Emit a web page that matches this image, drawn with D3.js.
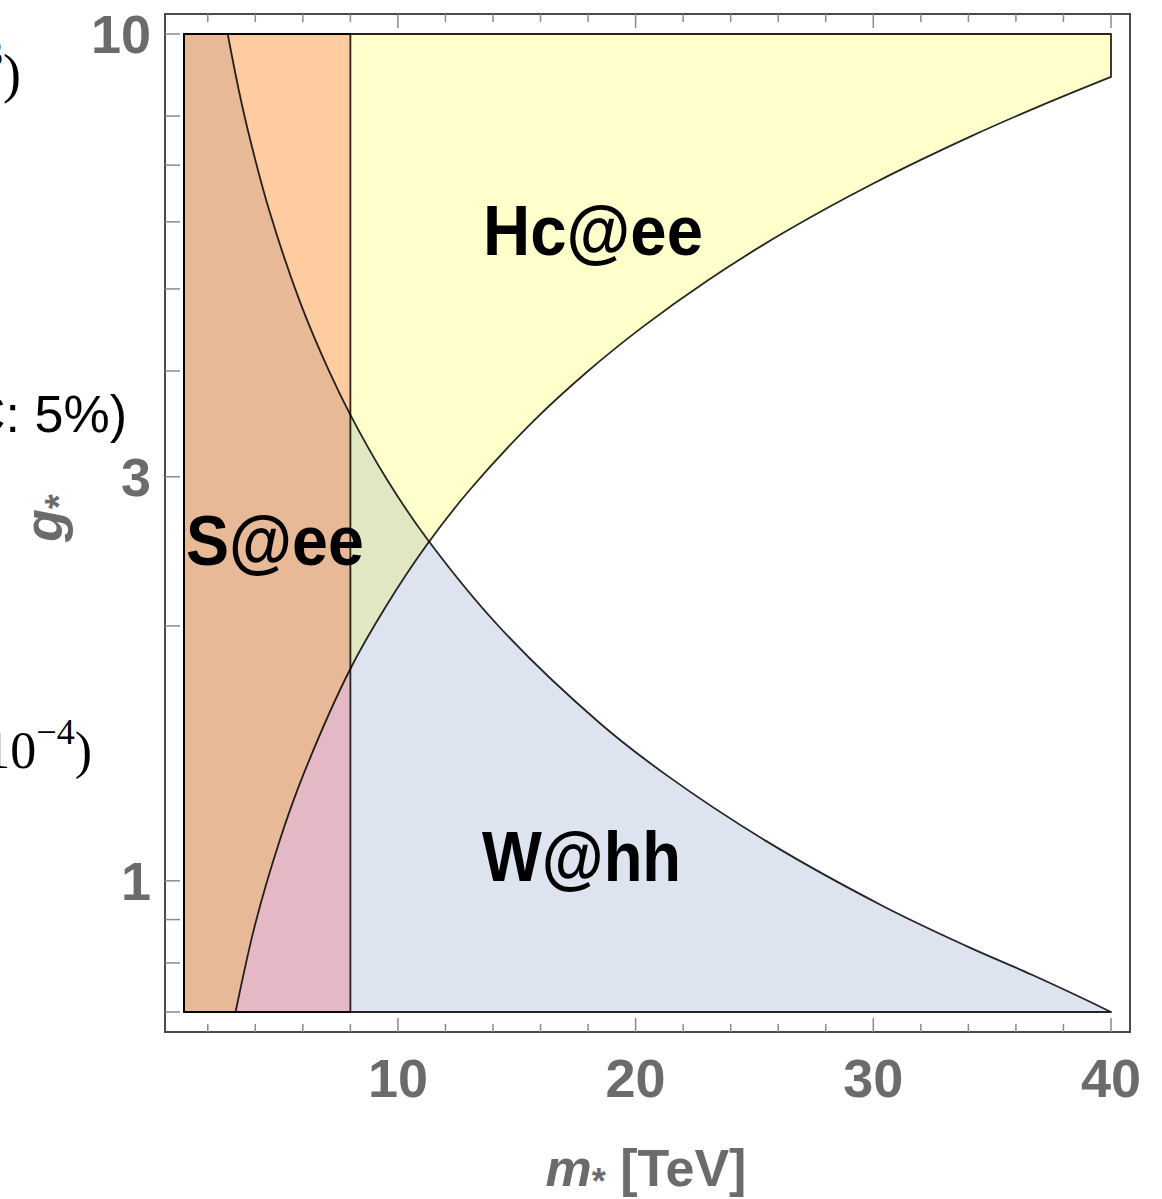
<!DOCTYPE html>
<html>
<head>
<meta charset="utf-8">
<script src="https://cdn.jsdelivr.net/npm/d3@7"></script>
<style>
  body { margin: 0; background: #fff; }
  svg { display: block; }
</style>
</head>
<body>
<svg id="chart" width="1162" height="1199"></svg>
<script>
// boundary of the W@hh region (region lies below), m* in TeV vs g*
var wCurve = [[2.84,10],[3.3,8.6],[3.77,7.53],[4.6,6.17],[5.9,4.81],[7.1,4.0],[8,3.55],[9.5,2.99],
  [11.2,2.54],[14.3,1.99],[18.5,1.535],[21.3,1.333],[25.5,1.114],[30.4,0.934],[33.9,0.838],[36.7,0.774],[40,0.70]];
// boundary of the Hc@ee region (region lies above)
var hcCurve = [[3.17,0.70],[4,0.89],[5,1.11],[6,1.33],[8,1.78],[9.5,2.11],[11.2,2.49],[13,2.89],
  [15.7,3.49],[18,4.0],[20.3,4.51],[23,5.11],[26.2,5.82],[30,6.66],[34.1,7.57],[37,8.22],[40,8.9]];
// S@ee excludes m* below this
var sLimit = 8;

var xDomain = [1, 40], yDomain = [0.7, 10];
var xMajor = [10, 20, 30, 40];
var xMinor = [2, 4, 6, 8, 12, 14, 16, 18, 22, 24, 26, 28, 32, 34, 36, 38];
var yMajor = [1, 3, 10];
var yMinor = [0.7, 0.8, 0.9, 2, 4, 5, 6, 7, 8];

var regionLabels = ["Hc@ee", "S@ee", "W@hh"];
var labelAt = [[13.58, 5.48], [1.08, 2.36], [13.54, 1.0]];

var svg = d3.select('#chart');
var x = d3.scaleLinear().domain(xDomain).range([184, 1111]);
var y = d3.scaleLog().domain(yDomain).range([1012, 34]);

function curveD(pts) {
  return d3.line().x(function(d){ return x(d[0]); }).y(function(d){ return y(d[1]); })
    .curve(d3.curveCatmullRom.alpha(0.5))(pts);
}
function poly(pts, extra) {
  var s = curveD(pts);
  extra.forEach(function(p){ s += "L" + x(p[0]) + "," + y(p[1]); });
  return s + "Z";
}
function rectD(x0, x1) {
  return "M" + x(x0) + "," + y(yDomain[0]) + "L" + x(x1) + "," + y(yDomain[0]) +
    "L" + x(x1) + "," + y(yDomain[1]) + "L" + x(x0) + "," + y(yDomain[1]) + "Z";
}

var shapes = {
  S1: rectD(xDomain[0], sLimit),
  S0: rectD(sLimit, xDomain[1]),
  H1: poly(hcCurve, [[40,10],[1,10],[1,0.7]]),
  H0: poly(hcCurve, [[40,0.7]]),
  W1: poly(wCurve, [[40,0.7],[1,0.7],[1,10]]),
  W0: poly(wCurve, [[40,10]])
};

var defs = svg.append('defs');
for (var k in shapes) {
  defs.append('clipPath').attr('id', 'c' + k).append('path').attr('d', shapes[k]);
}

// overlap colours
var zones = [
  ['1','1','1','#e8b996'], ['1','1','0','#ffcba1'], ['1','0','1','#e4b9c5'], ['1','0','0','#ffcbc8'],
  ['0','1','1','#e1e7c3'], ['0','1','0','#ffffcc'], ['0','0','1','#dee3f0']
];
zones.forEach(function(z){
  svg.append('g').attr('clip-path', 'url(#cS' + z[0] + ')')
    .append('g').attr('clip-path', 'url(#cH' + z[1] + ')')
    .append('g').attr('clip-path', 'url(#cW' + z[2] + ')')
    .append('path').attr('d', rectD(xDomain[0], xDomain[1])).attr('fill', z[3]);
});

// region outlines
[shapes.H1, shapes.W1, shapes.S1].forEach(function(d){
  svg.append('path').attr('d', d).attr('fill', 'none')
    .attr('stroke', '#000').attr('stroke-opacity', 0.85).attr('stroke-width', 1.8)
    .attr('stroke-linejoin', 'round');
});

// region labels
var labelW = [220, 178, 199];
regionLabels.forEach(function(t, i){
  svg.append('text').attr('x', x(labelAt[i][0])).attr('y', y(labelAt[i][1]))
    .attr('font-family', 'Liberation Sans, Arial, sans-serif').attr('font-weight', 'bold')
    .attr('font-size', 70).attr('textLength', labelW[i]).attr('lengthAdjust', 'spacingAndGlyphs')
    .text(t);
});

// frame
var fx0 = 165, fx1 = 1130, fy0 = 14, fy1 = 1032;
svg.append('rect').attr('x', fx0).attr('y', fy0).attr('width', fx1 - fx0).attr('height', fy1 - fy0)
  .attr('fill', 'none').attr('stroke', '#4a4a4a').attr('stroke-width', 2);

var tickCol = '#8a8a8a';
function xTicks(vals, len) {
  vals.forEach(function(v){
    svg.append('line').attr('x1', x(v)).attr('x2', x(v)).attr('y1', fy1).attr('y2', fy1 - len)
      .attr('stroke', tickCol).attr('stroke-width', 1.5);
    svg.append('line').attr('x1', x(v)).attr('x2', x(v)).attr('y1', fy0).attr('y2', fy0 + len)
      .attr('stroke', tickCol).attr('stroke-width', 1.5);
  });
}
xTicks(xMajor, 14);
xTicks(xMinor, 8);
yMajor.concat(yMinor).forEach(function(v){
  svg.append('line').attr('x1', fx0).attr('x2', fx0 + 15).attr('y1', y(v)).attr('y2', y(v))
    .attr('stroke', tickCol).attr('stroke-width', 1.5);
});

var labFont = 'Liberation Sans, Arial, sans-serif';
xMajor.forEach(function(v){
  svg.append('text').attr('x', x(v)).attr('y', 1097).attr('text-anchor', 'middle')
    .attr('font-family', labFont).attr('font-weight', 'bold').attr('font-size', 54)
    .attr('fill', '#6b6b6b').text(v);
});
yMajor.forEach(function(v){
  svg.append('text').attr('x', 151).attr('y', y(v) + 19).attr('text-anchor', 'end')
    .attr('font-family', labFont).attr('font-weight', 'bold').attr('font-size', 54)
    .attr('fill', '#6b6b6b').text(v);
});

// axis titles
var xt = svg.append('text').attr('x', 646).attr('y', 1186).attr('text-anchor', 'middle')
  .attr('font-family', labFont).attr('font-weight', 'bold').attr('font-size', 52).attr('fill', '#6b6b6b');
xt.append('tspan').attr('font-style', 'italic').text('m');
xt.append('tspan').attr('font-size', 36).attr('dy', 8).text('*');
xt.append('tspan').attr('dy', -8).text(' [TeV]');

var yt = svg.append('text').attr('transform', 'translate(62,518) rotate(-90)').attr('text-anchor', 'middle')
  .attr('font-family', labFont).attr('font-weight', 'bold').attr('font-size', 54).attr('fill', '#6b6b6b');
yt.append('tspan').attr('font-style', 'italic').text('g');
yt.append('tspan').attr('font-size', 38).attr('dy', 10).text('*');

// text spilling in from the neighbouring panel
var t1 = svg.append('text').attr('x', 21).attr('y', 92).attr('text-anchor', 'end')
  .attr('font-family', 'Liberation Serif, serif').attr('font-size', 54).attr('fill', '#000');
t1.append('tspan').text('10');
t1.append('tspan').attr('font-size', 38).attr('dy', -26).text('3');
t1.append('tspan').attr('dy', 26).text(')');

svg.append('text').attr('x', 127).attr('y', 432).attr('text-anchor', 'end')
  .attr('font-family', 'Liberation Sans, Arial, sans-serif').attr('font-size', 52).attr('fill', '#000')
  .text('LHC: 5%)');

var t3 = svg.append('text').attr('x', 92).attr('y', 768).attr('text-anchor', 'end')
  .attr('font-family', 'Liberation Serif, serif').attr('font-size', 52).attr('fill', '#000');
t3.append('tspan').text('10');
t3.append('tspan').attr('font-size', 36).attr('dy', -24).text('−4');
t3.append('tspan').attr('dy', 24).text(')');
</script>
</body>
</html>
